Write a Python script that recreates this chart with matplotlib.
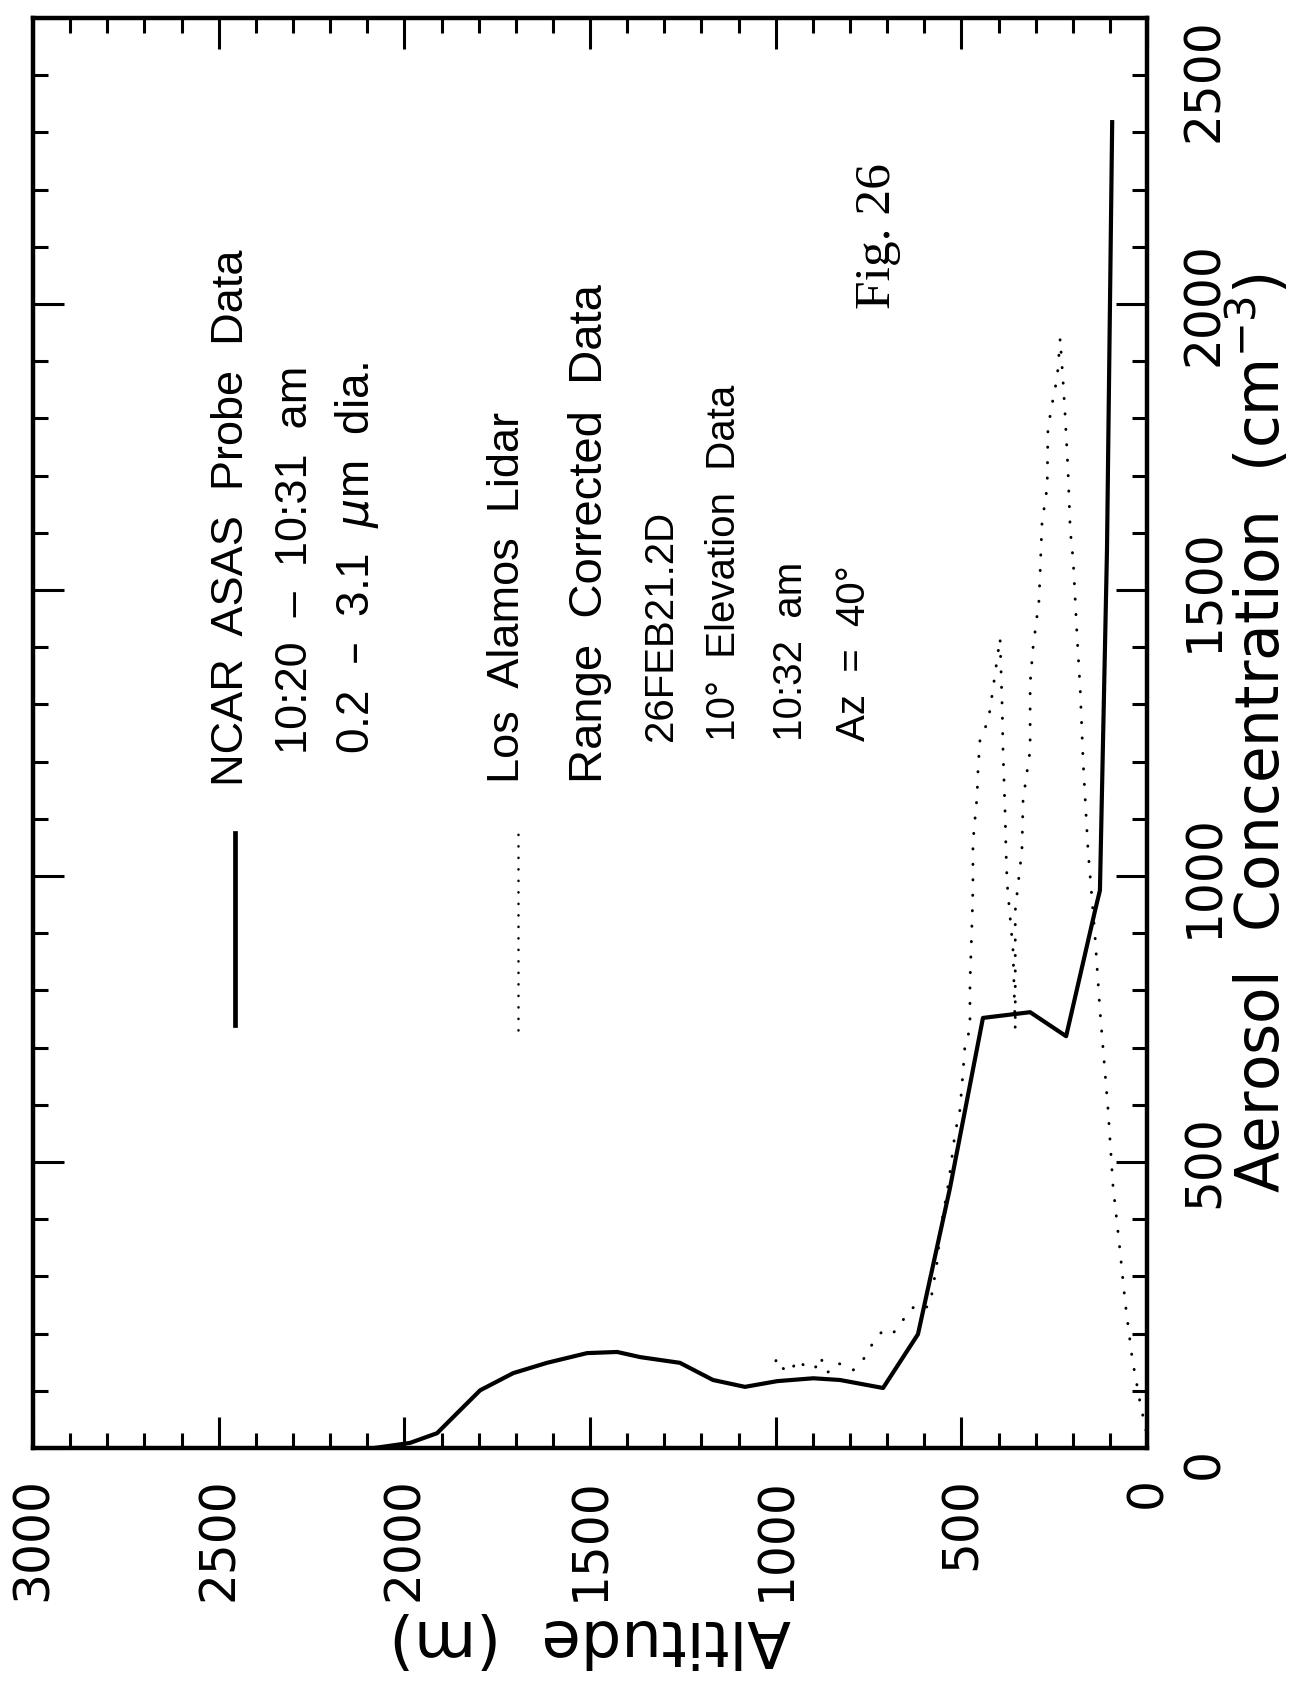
import numpy as np
import matplotlib
matplotlib.use('Agg')
import matplotlib.pyplot as plt
from matplotlib.ticker import MultipleLocator

plt.rcParams['font.family'] = 'DejaVu Sans'

# NCAR ASAS probe profile (altitude in m, concentration in cm^-3)
probe_alt = [2082, 1985, 1912, 1858, 1796, 1707, 1616, 1508, 1427, 1365, 1258,
             1169, 1083, 996, 899, 827, 711, 617, 531, 442, 315, 218, 140,
             127, 108, 94]
probe_conc = [0, 9, 26, 61, 101, 131, 149, 166, 168, 159, 149,
              119, 107, 117, 122, 119, 105, 199, 454, 752, 762, 720, 940,
              975, 1570, 2318]

# Los Alamos lidar, range corrected, 10 deg elevation
lidar_alt = [3, 19, 40, 59, 75, 92, 105, 127, 140, 159, 172, 180, 189, 199,
             207, 213, 221, 226, 234, 242, 253, 267, 269, 283, 291, 307, 315,
             315, 334, 337, 347, 355, 355, 355, 361, 377, 380, 382, 388, 390,
             396, 423, 431, 450, 455, 458, 463, 469, 469, 471, 474, 477, 477,
             490, 496, 504, 517, 522, 531, 539, 549, 557, 566, 579, 590, 619,
             646, 665, 684, 711, 738, 765, 792, 819, 835, 862, 880, 895, 916,
             943, 960, 988, 996, 1010, 1021]
lidar_conc = [31, 80, 156, 255, 358, 460, 591, 766, 893, 1045, 1197, 1325,
              1425, 1552, 1605, 1710, 1809, 1862, 1940, 1872, 1835, 1783, 1680,
              1617, 1482, 1400, 1337, 1220, 1133, 1045, 988, 940, 783, 731, 870,
              988, 1045, 1103, 1220, 1290, 1416, 1290, 1267, 1238, 1190, 1138,
              1103, 1058, 981, 928, 870, 813, 731, 708, 655, 591, 551, 526, 481,
              446, 411, 376, 323, 271, 246, 252, 236, 215, 201, 206, 184, 154,
              136, 145, 149, 131, 160, 138, 140, 155, 132, 142, 157, 140, 133]

alt_ticks = [0, 500, 1000, 1500, 2000, 2500, 3000]
conc_ticks = [0, 500, 1000, 1500, 2000, 2500]

sans = ['Liberation Sans', 'DejaVu Sans']

fig = plt.figure(figsize=(12.96, 17.01), dpi=100)
ax = fig.add_axes([0.0255, 0.1487, 0.8596, 0.8407])

ax.plot(probe_alt, probe_conc, color='black', lw=3.0)
ax.plot(lidar_alt, lidar_conc, color='black', lw=2.1,
        linestyle=(0, (0.1, 5.2)), dash_capstyle='round')

ax.set_xlim(3000, 0)
ax.set_ylim(0, 2500)
ax.set_xticks(alt_ticks)
ax.set_xticklabels([str(v) for v in alt_ticks])
ax.set_yticks(conc_ticks)
ax.set_yticklabels([str(v) for v in conc_ticks])
ax.xaxis.set_minor_locator(MultipleLocator(100))
ax.yaxis.set_minor_locator(MultipleLocator(100))

for sp in ax.spines.values():
    sp.set_linewidth(3.2)

ax.tick_params(which='both', direction='in', top=True, bottom=True,
               left=True, right=True, width=2.2)
ax.tick_params(which='major', length=22)
ax.tick_params(which='minor', length=11)
ax.tick_params(axis='x', labelrotation=90, labelsize=35, pad=21)
ax.tick_params(axis='y', labelrotation=90, labelsize=35, pad=24,
               labelleft=False, labelright=True)
for lbl in ax.yaxis.get_majorticklabels():
    lbl.set_va('center')
    if lbl.get_text() in ('0', '2500'):
        lbl.set_va('top')

ax.set_xlabel('Altitude  (m)', rotation=180, fontsize=46, labelpad=4)
ax.yaxis.set_label_position('right')
ax.set_ylabel('Aerosol  Concentration  (cm$^{-3}$)', rotation=90, fontsize=43)
ax.yaxis.set_label_coords(1.071, 0.5)

# legend samples
ax.plot([2456, 2456], [739, 1075], color='black', lw=3.4)
ax.plot([1694, 1694], [731, 1080], color='black', lw=1.8,
        linestyle=(0, (0.1, 4.5)), dash_capstyle='round')


def note(alt, conc, s, size, family=sans):
    ax.text(alt, conc, s, rotation=90, rotation_mode='anchor', ha='left',
            va='center', fontsize=size, family=family)


note(2465, 1157, 'NCAR  ASAS  Probe  Data', 32.5)
note(2292, 1213, '10:20  \u2013  10:31  am', 32.5)
note(2127, 1213, '0.2  \u2013  3.1  $\\mu$m  dia.', 33)
note(1722, 1163, 'Los  Alamos  Lidar', 32.5)
note(1500, 1163, 'Range  Corrected  Data', 34)
note(1310, 1236, '26FEB21.2D', 29)
note(1140, 1236, '10\u00b0  Elevation  Data', 29)
note(960, 1236, '10:32  am', 29)
note(790, 1236, 'Az  =  40\u00b0', 29)
note(724, 1991, 'Fig. 26', 37, family=['Liberation Serif', 'DejaVu Serif'])

fig.savefig('out.png', dpi=100)
